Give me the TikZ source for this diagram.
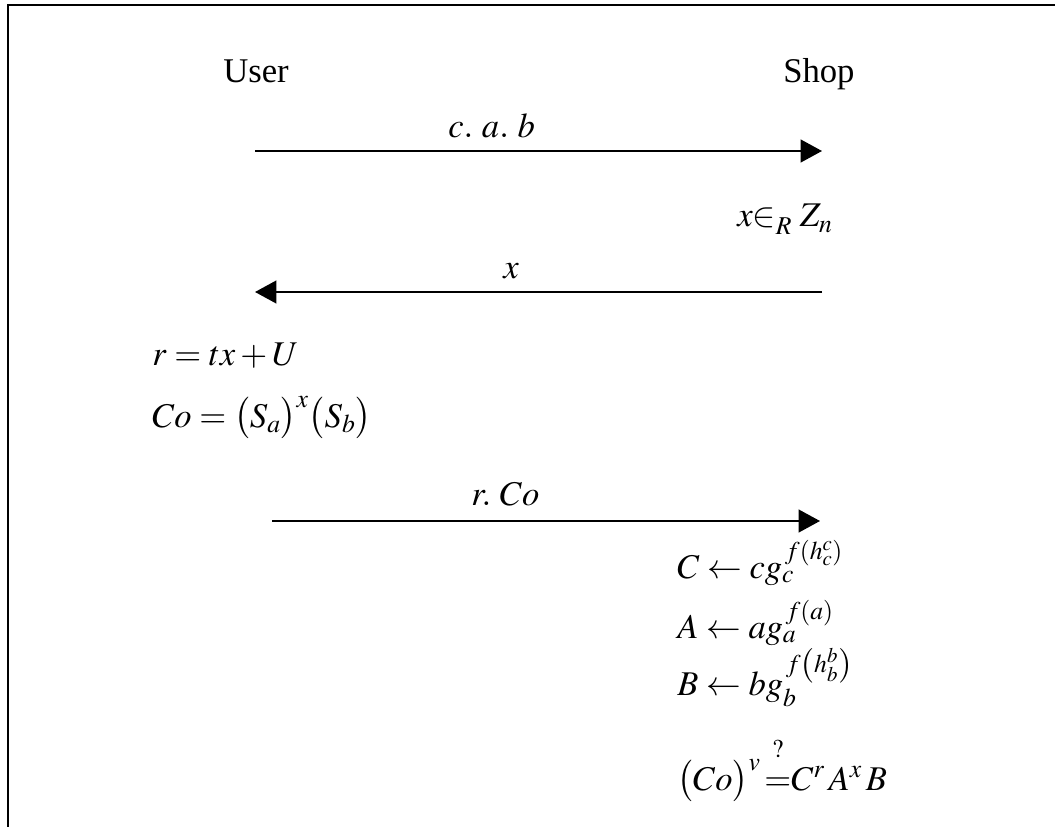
\documentclass[tikz,border=0pt]{standalone}
\usepackage{mathptmx}
\usepackage{fontspec}
\setmainfont{Liberation Serif}
\usetikzlibrary{arrows.meta}
\begin{document}
\begin{tikzpicture}[x=0.75pt,y=-0.75pt,
  txt/.style={anchor=base west,inner sep=0pt,font=\fontsize{26}{30}\selectfont},
  msg/.style={line width=1.6pt,-{Triangle[length=16pt,width=17pt]}},
  frame/.style={line width=1.6pt}]
\useasboundingbox (0,0) rectangle (1055,827);
\coordinate (ftr) at (1055,5);
\coordinate (ftl) at (8,5);
\coordinate (fbl) at (8,827);
\draw[frame] (ftr) -- (ftl) -- (fbl);
\node[txt] (user) at (223,83) {User};
\node[txt] (shop) at (783,83) {Shop};
% message 1
\coordinate (m1s) at (255,151);
\coordinate (m1e) at (822,151);
\draw[msg] (m1s) -- (m1e);
\node[txt] (l1) at (448,138) {$c.\ a.\ b$};
\node[txt] (xr) at (737,227) {$x{\in}_{\raisebox{-2pt}{$\scriptstyle R$}}\;Z_n$};
% message 2
\coordinate (m2s) at (822,292);
\coordinate (m2e) at (255,292);
\draw[msg] (m2s) -- (m2e);
\node[txt] (l2) at (503,278) {$x$};
\node[txt] (eq1) at (152,365) {$r=tx+U$};
\node[txt] (eq2) at (152,427) {$Co=\bigl(S_{a}\bigr)^{x}\bigl(S_{b}\bigr)$};
% message 3
\coordinate (m3s) at (272,521);
\coordinate (m3e) at (820,521);
\draw[msg] (m3s) -- (m3e);
\node[txt] (l3) at (471,505) {$r.\ Co$};
\node[txt] (eq3) at (677,578) {$C\leftarrow cg_c^{\,f\left(h_c^c\right)}$};
\node[txt] (eq4) at (677,638) {$A\leftarrow ag_a^{\,f(a)}$};
\node[txt] (eq5) at (677,695) {$B\leftarrow bg_b^{\,f\left(h_b^b\right)}$};
\node[txt] (eq6) at (677,790) {$\bigl(Co\bigr)^{v}\,{\stackrel{\raisebox{10pt}{$\scriptstyle ?$}}{=}}C^r\,A^x\,B$};
\end{tikzpicture}
\end{document}
